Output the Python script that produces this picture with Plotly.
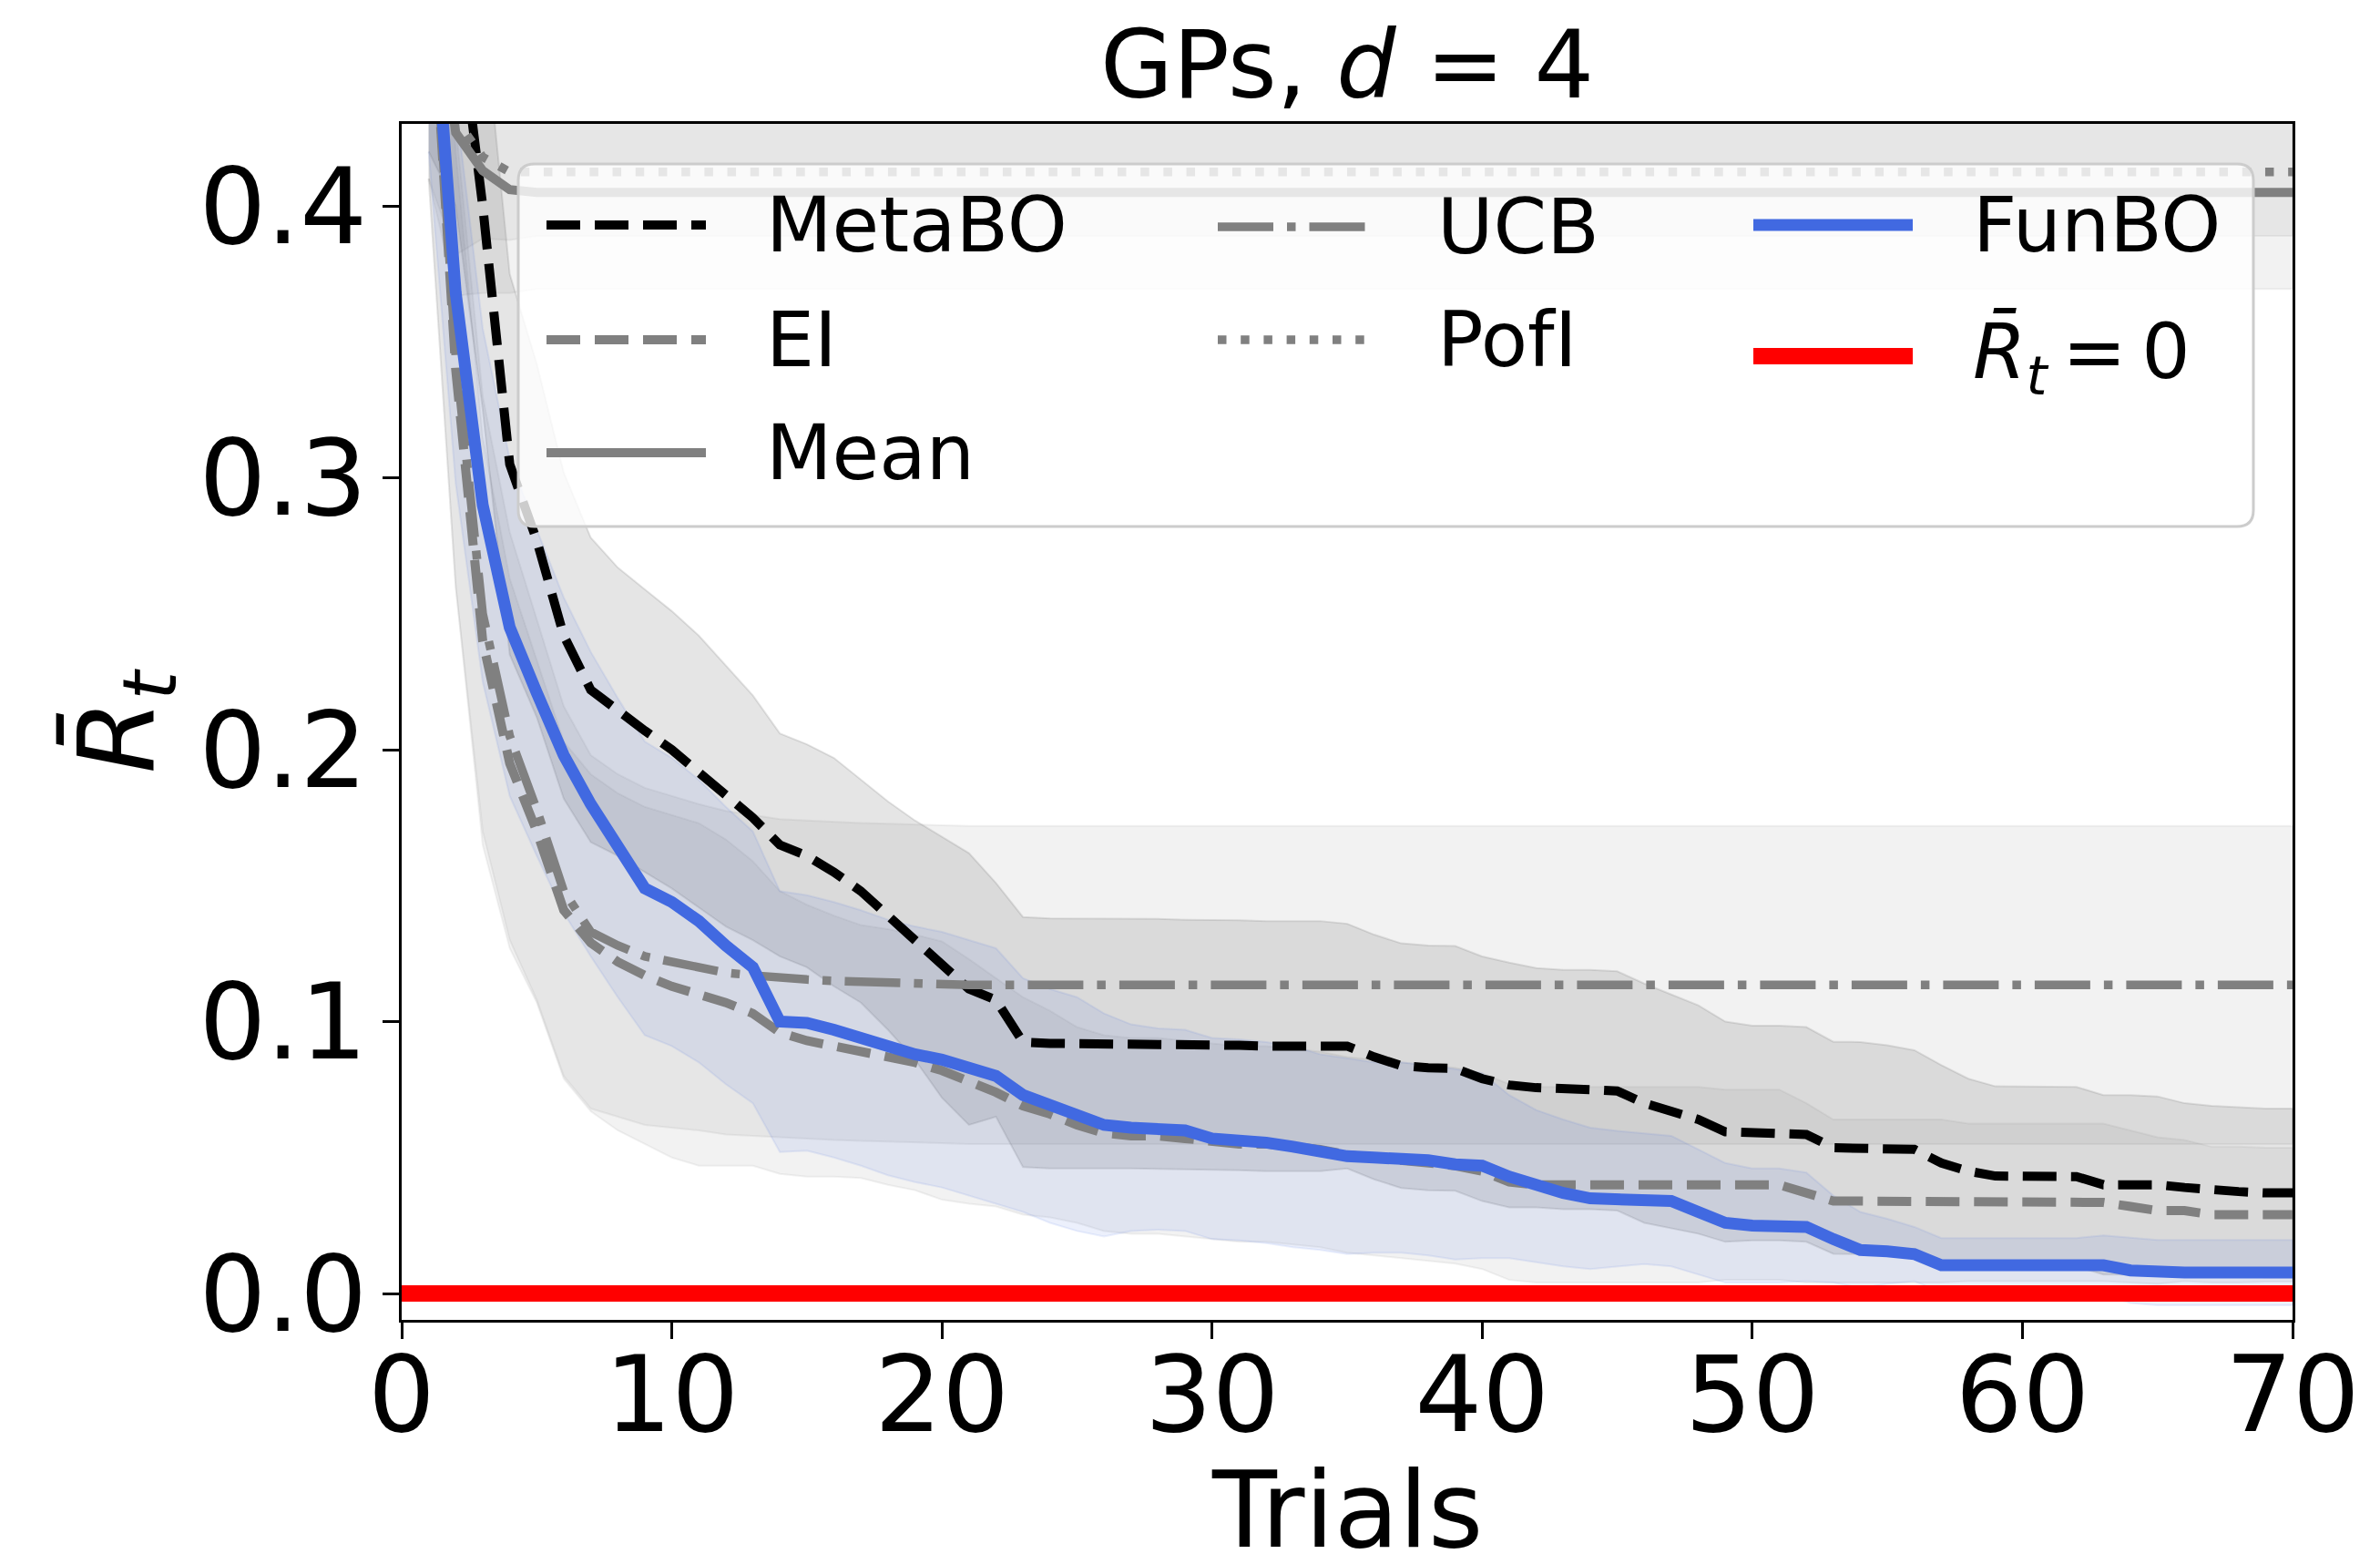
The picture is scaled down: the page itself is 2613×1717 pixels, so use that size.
import plotly.graph_objects as go

# ---------------- data ----------------
TRIALS = list(range(1, 71))
X_TICKS = [0, 10, 20, 30, 40, 50, 60, 70]
Y_TICKS = [0.0, 0.1, 0.2, 0.3, 0.4]
ZERO_X = [0, 70]
ZERO_Y = [0.0, 0.0]

METABO_MEAN = [
    0.500, 0.480, 0.400, 0.305, 0.277, 0.242, 0.222, 0.214, 0.207, 0.200,
    0.192, 0.183, 0.175, 0.165, 0.161, 0.155, 0.148, 0.139, 0.130, 0.120,
    0.112, 0.108, 0.0925, 0.092, 0.092, 0.092, 0.092, 0.0918, 0.0915, 0.0915,
    0.0913, 0.091, 0.091, 0.091, 0.091, 0.087, 0.0838, 0.083, 0.0828, 0.079,
    0.0767, 0.0757, 0.075, 0.075, 0.0745, 0.070, 0.067, 0.064, 0.0595, 0.059,
    0.059, 0.0585, 0.0536, 0.0535, 0.0533, 0.053, 0.048, 0.045, 0.0432, 0.0432,
    0.0432, 0.043, 0.040, 0.040, 0.040, 0.039, 0.038, 0.0375, 0.037, 0.037,
]
METABO_STD = [
    0.080, 0.080, 0.075, 0.070, 0.065, 0.060, 0.056, 0.053, 0.052, 0.051,
    0.050, 0.048, 0.045, 0.041, 0.041, 0.042, 0.041, 0.042, 0.044, 0.048,
    0.050, 0.043, 0.046, 0.046, 0.046, 0.046, 0.046, 0.046, 0.046, 0.046,
    0.046, 0.046, 0.046, 0.046, 0.045, 0.045, 0.045, 0.045, 0.045, 0.045,
    0.045, 0.044, 0.044, 0.044, 0.044, 0.044, 0.043, 0.042, 0.0405, 0.0395,
    0.0395, 0.0395, 0.039, 0.039, 0.038, 0.0365, 0.036, 0.034, 0.033, 0.033,
    0.033, 0.033, 0.033, 0.033, 0.0325, 0.031, 0.031, 0.031, 0.031, 0.031,
]

EI_MEAN = [
    0.500, 0.340, 0.240, 0.195, 0.170, 0.141, 0.129, 0.122, 0.117, 0.113,
    0.110, 0.107, 0.103, 0.096, 0.093, 0.091, 0.089, 0.087, 0.085, 0.082,
    0.078, 0.074, 0.069, 0.066, 0.062, 0.059, 0.058, 0.058, 0.057, 0.056,
    0.055, 0.055, 0.054, 0.053, 0.051, 0.050, 0.049, 0.048, 0.047, 0.045,
    0.041, 0.040, 0.040, 0.040, 0.040, 0.040, 0.040, 0.040, 0.040, 0.040,
    0.040, 0.037, 0.034, 0.034, 0.034, 0.034, 0.034, 0.0335, 0.0335, 0.0335,
    0.0335, 0.0335, 0.0335, 0.032, 0.0305, 0.0305, 0.029, 0.029, 0.029, 0.029,
]
EI_STD = [
    0.090, 0.080, 0.075, 0.068, 0.063, 0.062, 0.062, 0.062, 0.062, 0.063,
    0.063, 0.060, 0.056, 0.052, 0.050, 0.048, 0.0465, 0.047, 0.047, 0.0475,
    0.045, 0.042, 0.040, 0.038, 0.036, 0.036, 0.036, 0.036, 0.036, 0.036,
    0.036, 0.036, 0.036, 0.036, 0.036, 0.036, 0.036, 0.036, 0.036, 0.036,
    0.036, 0.036, 0.036, 0.036, 0.036, 0.036, 0.036, 0.036, 0.035, 0.035,
    0.035, 0.033, 0.030, 0.030, 0.030, 0.030, 0.030, 0.029, 0.029, 0.029,
    0.029, 0.029, 0.029, 0.028, 0.027, 0.026, 0.025, 0.025, 0.0246, 0.0246,
]

MEAN_MEAN = [
    0.500, 0.427, 0.413, 0.406, 0.405, 0.405, 0.405, 0.405, 0.405, 0.405,
    0.405, 0.405, 0.405, 0.405, 0.405, 0.405, 0.405, 0.405, 0.405, 0.405,
    0.405, 0.405, 0.405, 0.405, 0.405, 0.405, 0.405, 0.405, 0.405, 0.405,
    0.405, 0.405, 0.405, 0.405, 0.405, 0.405, 0.405, 0.405, 0.405, 0.405,
    0.405, 0.405, 0.405, 0.405, 0.405, 0.405, 0.405, 0.405, 0.405, 0.405,
    0.405, 0.405, 0.405, 0.405, 0.405, 0.405, 0.405, 0.405, 0.405, 0.405,
    0.405, 0.405, 0.405, 0.405, 0.405, 0.405, 0.405, 0.405, 0.405, 0.405,
]
MEAN_STD = [
    0.090, 0.060, 0.045, 0.038, 0.0355, 0.0355, 0.0355, 0.0355, 0.0355, 0.0355,
    0.0355, 0.0355, 0.0355, 0.0355, 0.0355, 0.0355, 0.0355, 0.0355, 0.0355, 0.0355,
    0.0355, 0.0355, 0.0355, 0.0355, 0.0355, 0.0355, 0.0355, 0.0355, 0.0355, 0.0355,
    0.0355, 0.0355, 0.0355, 0.0355, 0.0355, 0.0355, 0.0355, 0.0355, 0.0355, 0.0355,
    0.0355, 0.0355, 0.0355, 0.0355, 0.0355, 0.0355, 0.0355, 0.0355, 0.0355, 0.0355,
    0.0355, 0.0355, 0.0355, 0.0355, 0.0355, 0.0355, 0.0355, 0.0355, 0.0355, 0.0355,
    0.0355, 0.0355, 0.0355, 0.0355, 0.0355, 0.0355, 0.0355, 0.0355, 0.0355, 0.0355,
]

UCB_MEAN = [
    0.500, 0.345, 0.250, 0.205, 0.178, 0.148, 0.133, 0.128, 0.124, 0.122,
    0.120, 0.118, 0.117, 0.116, 0.1155, 0.115, 0.1146, 0.1143, 0.1140, 0.1138,
    0.1135, 0.1135, 0.1135, 0.1135, 0.1135, 0.1135, 0.1135, 0.1135, 0.1135, 0.1135,
    0.1135, 0.1135, 0.1135, 0.1135, 0.1135, 0.1135, 0.1135, 0.1135, 0.1135, 0.1135,
    0.1135, 0.1135, 0.1135, 0.1135, 0.1135, 0.1135, 0.1135, 0.1135, 0.1135, 0.1135,
    0.1135, 0.1135, 0.1135, 0.1135, 0.1135, 0.1135, 0.1135, 0.1135, 0.1135, 0.1135,
    0.1135, 0.1135, 0.1135, 0.1135, 0.1135, 0.1135, 0.1135, 0.1135, 0.1135, 0.1135,
]
UCB_STD = [
    0.090, 0.085, 0.080, 0.075, 0.070, 0.068, 0.065, 0.063, 0.062, 0.061,
    0.060, 0.0595, 0.059, 0.0585, 0.0585, 0.0585, 0.0585, 0.0585, 0.0585, 0.0585,
    0.0585, 0.0585, 0.0585, 0.0585, 0.0585, 0.0585, 0.0585, 0.0585, 0.0585, 0.0585,
    0.0585, 0.0585, 0.0585, 0.0585, 0.0585, 0.0585, 0.0585, 0.0585, 0.0585, 0.0585,
    0.0585, 0.0585, 0.0585, 0.0585, 0.0585, 0.0585, 0.0585, 0.0585, 0.0585, 0.0585,
    0.0585, 0.0585, 0.0585, 0.0585, 0.0585, 0.0585, 0.0585, 0.0585, 0.0585, 0.0585,
    0.0585, 0.0585, 0.0585, 0.0585, 0.0585, 0.0585, 0.0585, 0.0585, 0.0585, 0.0585,
]

POFI_MEAN = [
    0.500, 0.432, 0.418, 0.4125, 0.4125, 0.4125, 0.4125, 0.4125, 0.4125, 0.4125,
    0.4125, 0.4125, 0.4125, 0.4125, 0.4125, 0.4125, 0.4125, 0.4125, 0.4125, 0.4125,
    0.4125, 0.4125, 0.4125, 0.4125, 0.4125, 0.4125, 0.4125, 0.4125, 0.4125, 0.4125,
    0.4125, 0.4125, 0.4125, 0.4125, 0.4125, 0.4125, 0.4125, 0.4125, 0.4125, 0.4125,
    0.4125, 0.4125, 0.4125, 0.4125, 0.4125, 0.4125, 0.4125, 0.4125, 0.4125, 0.4125,
    0.4125, 0.4125, 0.4125, 0.4125, 0.4125, 0.4125, 0.4125, 0.4125, 0.4125, 0.4125,
    0.4125, 0.4125, 0.4125, 0.4125, 0.4125, 0.4125, 0.4125, 0.4125, 0.4125, 0.4125,
]
POFI_STD = [
    0.090, 0.050, 0.030, 0.025, 0.0235, 0.0235, 0.0235, 0.0235, 0.0235, 0.0235,
    0.0235, 0.0235, 0.0235, 0.0235, 0.0235, 0.0235, 0.0235, 0.0235, 0.0235, 0.0235,
    0.0235, 0.0235, 0.0235, 0.0235, 0.0235, 0.0235, 0.0235, 0.0235, 0.0235, 0.0235,
    0.0235, 0.0235, 0.0235, 0.0235, 0.0235, 0.0235, 0.0235, 0.0235, 0.0235, 0.0235,
    0.0235, 0.0235, 0.0235, 0.0235, 0.0235, 0.0235, 0.0235, 0.0235, 0.0235, 0.0235,
    0.0235, 0.0235, 0.0235, 0.0235, 0.0235, 0.0235, 0.0235, 0.0235, 0.0235, 0.0235,
    0.0235, 0.0235, 0.0235, 0.0235, 0.0235, 0.0235, 0.0235, 0.0235, 0.0235, 0.0235,
]

FUNBO_MEAN = [
    0.500, 0.368, 0.290, 0.245, 0.221, 0.198, 0.180, 0.164, 0.149, 0.144,
    0.137, 0.128, 0.120, 0.100, 0.0995, 0.097, 0.094, 0.0905, 0.088, 0.086,
    0.083, 0.080, 0.073, 0.069, 0.066, 0.062, 0.061, 0.0605, 0.060, 0.057,
    0.0565, 0.0555, 0.054, 0.052, 0.0505, 0.050, 0.050, 0.049, 0.0475, 0.047,
    0.043, 0.0395, 0.037, 0.035, 0.0348, 0.0348, 0.034, 0.030, 0.026, 0.025,
    0.025, 0.0245, 0.020, 0.016, 0.0155, 0.0145, 0.0104, 0.0104, 0.0104, 0.0104,
    0.0104, 0.0104, 0.0104, 0.0085, 0.0077, 0.0077, 0.0077, 0.0077, 0.0077, 0.0077,
]
FUNBO_STD = [
    0.080, 0.070, 0.065, 0.062, 0.060, 0.058, 0.056, 0.055, 0.054, 0.053,
    0.052, 0.051, 0.050, 0.048, 0.047, 0.047, 0.047, 0.047, 0.047, 0.047,
    0.047, 0.047, 0.043, 0.043, 0.043, 0.041, 0.038, 0.037, 0.037, 0.037,
    0.037, 0.037, 0.037, 0.036, 0.036, 0.035, 0.035, 0.035, 0.035, 0.034,
    0.030, 0.028, 0.027, 0.026, 0.025, 0.024, 0.024, 0.023, 0.022, 0.021,
    0.021, 0.020, 0.016, 0.014, 0.012, 0.010, 0.010, 0.010, 0.010, 0.010,
    0.010, 0.010, 0.011, 0.012, 0.012, 0.012, 0.012, 0.012, 0.012, 0.012,
]

# ---------------- layout geometry (pixels) ----------------
W, H = 2613, 1717
ML, MR, MT, MB = 441, 96, 136, 268
PW = W - ML - MR
PH = H - MT - MB
FONT = "DejaVu Sans"
BLACK = "#000000"
GRAY = "#808080"
BLUE = "#4169e1"
RED = "#ff0000"

DASHED = "37px,16px"
DASHDOT = "61px,15px,9.5px,15px"
DOTTED = "9.5px,15.7px"


def px_x(px):
    return (px - ML) / PW


def px_y(py):
    return (H - MB - py) / PH


methods = [
    # name, mean, std, line colour, fill colour, dash, width
    ("MetaBO", METABO_MEAN, METABO_STD, BLACK, "rgba(0,0,0,0.10)", DASHED, 10),
    ("EI", EI_MEAN, EI_STD, GRAY, "rgba(128,128,128,0.10)", DASHED, 10),
    ("Mean", MEAN_MEAN, MEAN_STD, GRAY, "rgba(128,128,128,0.10)", "solid", 10),
    ("UCB", UCB_MEAN, UCB_STD, GRAY, "rgba(128,128,128,0.10)", DASHDOT, 9.5),
    ("PofI", POFI_MEAN, POFI_STD, GRAY, "rgba(128,128,128,0.10)", DOTTED, 9.5),
    ("FunBO", FUNBO_MEAN, FUNBO_STD, BLUE, "rgba(65,105,225,0.10)", "solid", 13),
]

fig = go.Figure()

# shaded bands (mean +/- std)
for name, mean, std, lc, fc, dash, lw in methods:
    upper = [m + s for m, s in zip(mean, std)]
    lower = [m - s for m, s in zip(mean, std)]
    fig.add_trace(go.Scatter(
        x=TRIALS + TRIALS[::-1], y=upper + lower[::-1],
        fill="toself", fillcolor=fc, mode="lines",
        line=dict(color=fc, width=2), hoverinfo="skip", showlegend=False,
    ))

# mean lines
for name, mean, std, lc, fc, dash, lw in methods:
    fig.add_trace(go.Scatter(
        x=TRIALS, y=mean, mode="lines", name=name,
        line=dict(color=lc, width=lw, dash=dash), showlegend=False,
    ))

fig.add_trace(go.Scatter(
    x=ZERO_X, y=ZERO_Y, mode="lines", name="R=0",
    line=dict(color=RED, width=18), showlegend=False,
))

# ---------------- hand-drawn legend (matplotlib style) ----------------
shapes = []
annotations = []
bx0, bx1, by0, by1, rad = 569, 2474, 180, 578, 18
rx, ry = rad / PW, rad / PH
X0, X1, Y0, Y1 = px_x(bx0), px_x(bx1), px_y(by1), px_y(by0)
path = (f"M{X0+rx},{Y0} L{X1-rx},{Y0} Q{X1},{Y0} {X1},{Y0+ry} "
        f"L{X1},{Y1-ry} Q{X1},{Y1} {X1-rx},{Y1} L{X0+rx},{Y1} "
        f"Q{X0},{Y1} {X0},{Y1-ry} L{X0},{Y0+ry} Q{X0},{Y0} {X0+rx},{Y0} Z")
shapes.append(dict(type="path", path=path, xref="paper", yref="paper",
                   fillcolor="rgba(255,255,255,0.8)",
                   line=dict(color="#cccccc", width=3), layer="above"))

legend_items = [
    ("MetaBO", 600, 247, 247, BLACK, DASHED, 10),
    ("EI", 600, 373, 373, GRAY, DASHED, 10),
    ("Mean", 600, 497, 497, GRAY, "solid", 10),
    ("UCB", 1337, 249, 249, GRAY, DASHDOT, 9.5),
    ("PofI", 1337, 373, 373, GRAY, DOTTED, 9.5),
    ("FunBO", 1925, 247, 247, BLUE, "solid", 13),
    ("<i>R̄</i><sub><i>t</i></sub>\u2009=\u20090", 1925, 391, 392, RED, "solid", 18),
]
for label, lx, ly, ty, col, dash, lw in legend_items:
    shapes.append(dict(type="line", xref="paper", yref="paper",
                       x0=px_x(lx), x1=px_x(lx + 175), y0=px_y(ly), y1=px_y(ly),
                       line=dict(color=col, width=lw, dash=dash), layer="above"))
    annotations.append(dict(text=label, xref="paper", yref="paper",
                            x=px_x(lx + 239), y=px_y(ty), xanchor="left", yanchor="middle",
                            showarrow=False, font=dict(family=FONT, size=84, color=BLACK)))

# axis titles
annotations.append(dict(text="Trials", xref="paper", yref="paper",
                        x=0.5, y=px_y(1657), xanchor="center", yanchor="middle",
                        showarrow=False, font=dict(family=FONT, size=116, color=BLACK)))
annotations.append(dict(text="<i>R̄</i><sub><i>t</i></sub>", xref="paper", yref="paper",
                        x=px_x(136), y=px_y(791), xanchor="center", yanchor="middle",
                        textangle=-90, showarrow=False,
                        font=dict(family=FONT, size=116, color=BLACK)))

axis_common = dict(
    showgrid=False, zeroline=False, showline=True, linecolor=BLACK, linewidth=2.5,
    mirror=True, ticks="outside", ticklen=18, tickwidth=2.5, tickcolor=BLACK,
    tickfont=dict(family=FONT, size=116, color=BLACK),
)

fig.update_layout(
    width=W, height=H,
    margin=dict(l=ML, r=MR, t=MT, b=MB, autoexpand=False),
    paper_bgcolor="white", plot_bgcolor="white",
    title=dict(text="GPs, <i>d</i> = 4", x=0.5, xref="paper", xanchor="center",
               y=1 - 71 / H, yref="container", yanchor="middle",
               font=dict(family=FONT, size=103, color=BLACK)),
    xaxis=dict(range=[0, 70], tickvals=X_TICKS, ticklabelstandoff=-38, **axis_common),
    yaxis=dict(range=[-0.0097, 0.4302], tickvals=Y_TICKS, tickformat=".1f",
               ticklabelstandoff=-6, **axis_common),
    shapes=shapes, annotations=annotations, showlegend=False,
)

fig.write_html("out.html")
